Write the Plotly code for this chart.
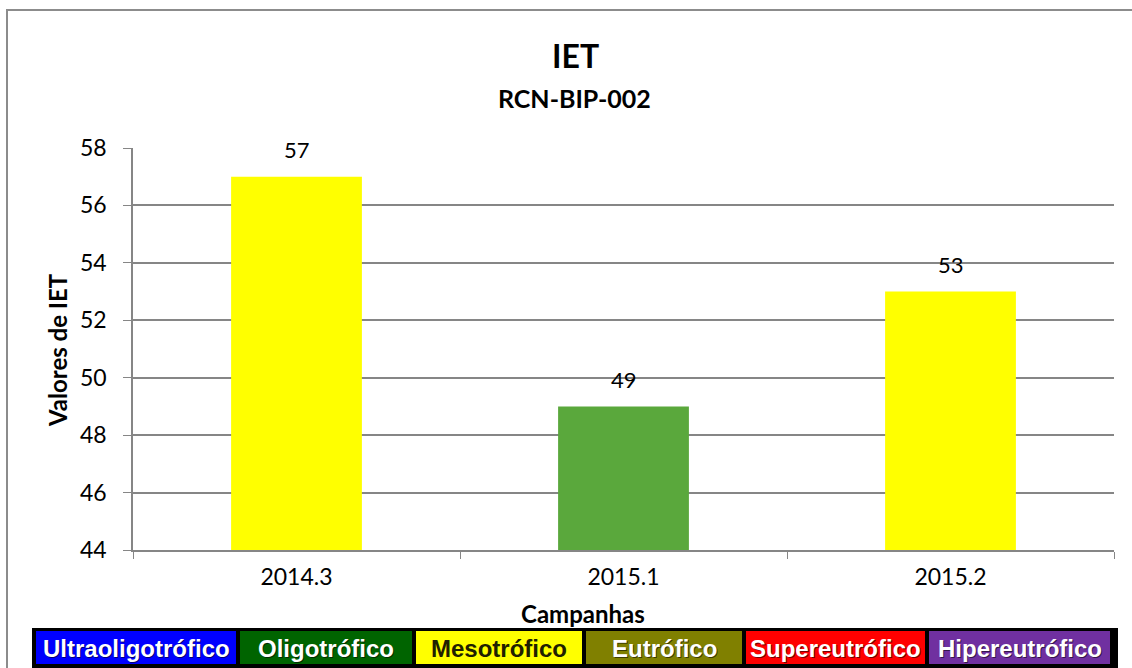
import plotly.graph_objects as go

campanhas = ["2014.3", "2015.1", "2015.2"]
iet_values = [57, 49, 53]
bar_colors = ["#FFFF00", "#5AA83C", "#FFFF00"]

classes = ["Ultraoligotrófico", "Oligotrófico", "Mesotrófico", "Eutrófico", "Supereutrófico", "Hipereutrófico"]
class_colors = ["#0000FF", "#006400", "#FFFF00", "#808000", "#FF0000", "#7030A0"]
class_text_colors = ["white", "white", "#202000", "white", "white", "white"]

W, H = 1132, 668
L, R, T, B = 133, 18, 148, 118
PW, PH = W - L - R, H - T - B

def px(x):
    return (x - L) / PW

def py(y):
    return (H - B - y) / PH

FONT = "Lato"

fig = go.Figure()
fig.add_trace(go.Bar(
    x=campanhas, y=iet_values, marker=dict(color=bar_colors, line=dict(width=0)),
    width=0.4, showlegend=False, hoverinfo="x+y",
))

annotations = []
for i, v in enumerate(iet_values):
    annotations.append(dict(x=i, y=v, text=str(v), showarrow=False, xanchor="center", yanchor="middle",
                            yshift=27, font=dict(family=FONT, size=22, color="black")))

def ann(x, y, text, size, **kw):
    d = dict(xref="paper", yref="paper", x=px(x), y=py(y), text=text, showarrow=False,
             xanchor="center", yanchor="middle", font=dict(family=FONT, size=size, color="black"))
    d.update(kw)
    return d

annotations.append(ann(575, 55, "<b>IET</b>", 32))
annotations.append(ann(574, 98, "<b>RCN-BIP-002</b>", 25))
annotations.append(ann(583, 613, "<b>Campanhas</b>", 24))
annotations.append(ann(57, 350, "<b>Valores de IET</b>", 24, textangle=-90))

shapes = []
# outer frame
shapes.append(dict(type="rect", xref="paper", yref="paper", x0=px(7), x1=px(1145), y0=py(680), y1=py(10),
                   line=dict(color="#8C8C8C", width=2), fillcolor="rgba(0,0,0,0)", layer="below"))
# legend bar
shapes.append(dict(type="rect", xref="paper", yref="paper", x0=px(32), x1=px(1118), y0=py(668), y1=py(628),
                   line=dict(width=0), fillcolor="black", layer="above"))
edges = [36, 240, 416, 586, 746, 929, 1114]
for i, (name, col, tc) in enumerate(zip(classes, class_colors, class_text_colors)):
    x0, x1 = edges[i], edges[i + 1] - 4
    shapes.append(dict(type="rect", xref="paper", yref="paper", x0=px(x0), x1=px(x1), y0=py(664), y1=py(631),
                       line=dict(width=0), fillcolor=col, layer="above"))
    cx = (x0 + x1) / 2
    if tc == "white":
        annotations.append(ann(cx + 1, 648 + 1, "<b>" + name + "</b>", 24,
                               font=dict(family="Liberation Sans", size=24, color="rgba(0,0,0,0.55)")))
    annotations.append(ann(cx, 648, "<b>" + name + "</b>", 24,
                           font=dict(family="Liberation Sans", size=24, color=tc)))

fig.update_layout(
    width=W, height=H,
    margin=dict(l=L, r=R, t=T, b=B),
    paper_bgcolor="white", plot_bgcolor="white",
    annotations=annotations, shapes=shapes,
)
fig.update_xaxes(
    type="category", range=[-0.5, 2.5], showline=True, linecolor="#868686", linewidth=1.5,
    ticks="outside", tickson="boundaries", ticklen=7, tickcolor="#868686",
    tickfont=dict(family=FONT, size=23, color="black"), showgrid=False, ticklabelstandoff=6,
)
fig.update_yaxes(
    range=[44, 58], dtick=2, showline=True, linecolor="#868686", linewidth=1.5,
    ticks="outside", ticklen=8, tickcolor="#868686",
    showgrid=True, gridcolor="#868686", gridwidth=1.5, zeroline=False,
    tickfont=dict(family=FONT, size=23, color="black"), ticklabelstandoff=12,
)

fig.write_html("out.html", config={"displayModeBar": False},
               post_script="document.body.style.margin='0';document.body.style.overflow='hidden';")
